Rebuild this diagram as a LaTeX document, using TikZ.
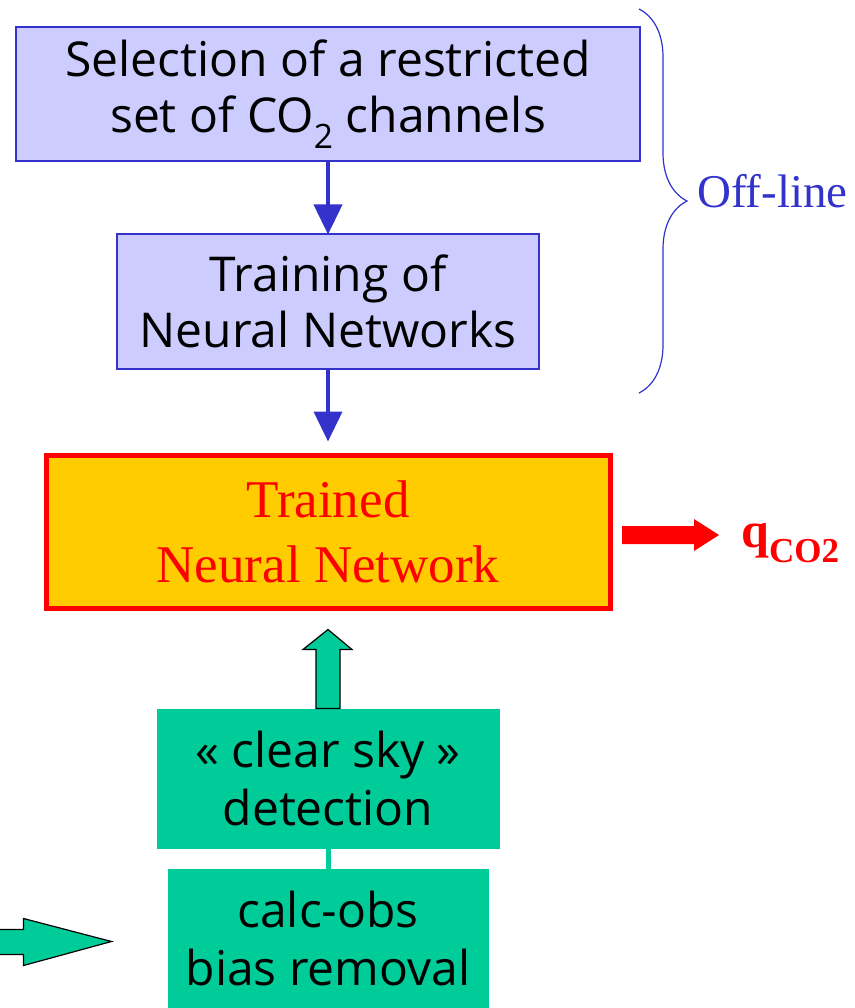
\documentclass[tikz,border=0pt]{standalone}
\usepackage{fontspec}
\setmainfont{Liberation Serif}
\newfontfamily\roundfont{Open Sans}
\usepackage{xcolor}
\usepackage{tikz}
\usetikzlibrary{positioning,arrows.meta,calc,decorations.pathreplacing}

\definecolor{lavender}{HTML}{CCCCFF}
\definecolor{boxblue}{HTML}{3333CC}
\definecolor{gold}{HTML}{FFCC00}
\definecolor{seagreen}{HTML}{00CC99}

\begin{document}
\begin{tikzpicture}[x=1pt, y=-1pt,
    block/.style={draw=boxblue, line width=2pt, fill=lavender, outer sep=0pt, inner sep=0pt, align=center, font=\roundfont\fontsize{48}{56}\selectfont},
    nnblock/.style={draw=red, line width=5pt, fill=gold, outer sep=0pt, inner sep=0pt, align=center, text=red, font=\fontsize{53}{65}\selectfont},
    greenblock/.style={fill=seagreen, outer sep=0pt, inner sep=0pt, align=center, font=\roundfont\fontsize{48}{58}\selectfont},
    arr/.style={-{Triangle[length=30pt,width=28pt]}, line width=4pt, draw=boxblue},
    fatarr/.style={draw=black, line width=1.2pt, fill=seagreen, line join=miter}
]
    \useasboundingbox (0,0) rectangle (854,1008);

    % Off-line part
    \node[block, minimum width=624pt, minimum height=134pt] (select) at (328,94.5) {Selection of a restricted\\set of CO\textsubscript{2} channels};
    \node[block, minimum width=422pt, minimum height=134pt, below=73pt of select] (train) {Training of\\Neural Networks};

    % Trained network
    \node[nnblock, minimum width=564pt, minimum height=153pt, below=87pt of train] (trained) {Trained\\Neural Network};

    % Input chain
    \node[greenblock, minimum width=343pt, minimum height=140pt, below=100pt of trained] (clear) {\guillemotleft{} clear sky \guillemotright\\ detection};
    \node[greenblock, minimum width=321pt, minimum height=140pt, below=20pt of clear] (bias) {calc-obs\\bias removal};

    % Output
    \coordinate (qstart) at ($(trained.east)+(12,3)$);
    \node[anchor=base west, inner sep=0pt, text=red, font=\bfseries\fontsize{50}{50}\selectfont] (qco) at ($(qstart)+(119,12)$) {q\raisebox{-15pt}{\fontsize{35}{35}\selectfont CO2}};

    % Brace
    \coordinate (bractop) at (639,9);
    \coordinate (bracbot) at (639,393);
    \draw[boxblue, line width=1.2pt, decorate, decoration={brace, amplitude=48pt}] (bractop) -- (bracbot);
    \node[anchor=base west, inner sep=0pt, text=boxblue, font=\fontsize{47}{47}\selectfont] (offline) at (697,208) {Off-line};

    % Connections
    \draw[arr] (select) -- (train);
    \draw[arr, shorten >=14pt] (train) -- (trained);
    \fill[red] (qstart) ++(0,-9) -- ++(72,0) -- ++(0,-7) -- ++(25,16) -- ++(-25,16) -- ++(0,-7) -- ++(-72,0) -- cycle;
    \draw[fatarr] ($(clear.north)+(-12,0)$) -- ++(0,-59) -- ++(-13,0) -- ++(25,-20) -- ++(24,20) -- ++(-12,0) -- ++(0,59) -- cycle;
    \draw[seagreen, line width=5pt] (clear.south) -- (bias.north);

    % Feed into bias removal
    \coordinate (feed) at ($(bias.west)+(-56,3)$);
    \draw[fatarr] (feed) -- ++(-88,-23) -- ++(0,11) -- ++(-30,0) -- ++(0,25) -- ++(30,0) -- ++(0,11) -- cycle;

\end{tikzpicture}
\end{document}
